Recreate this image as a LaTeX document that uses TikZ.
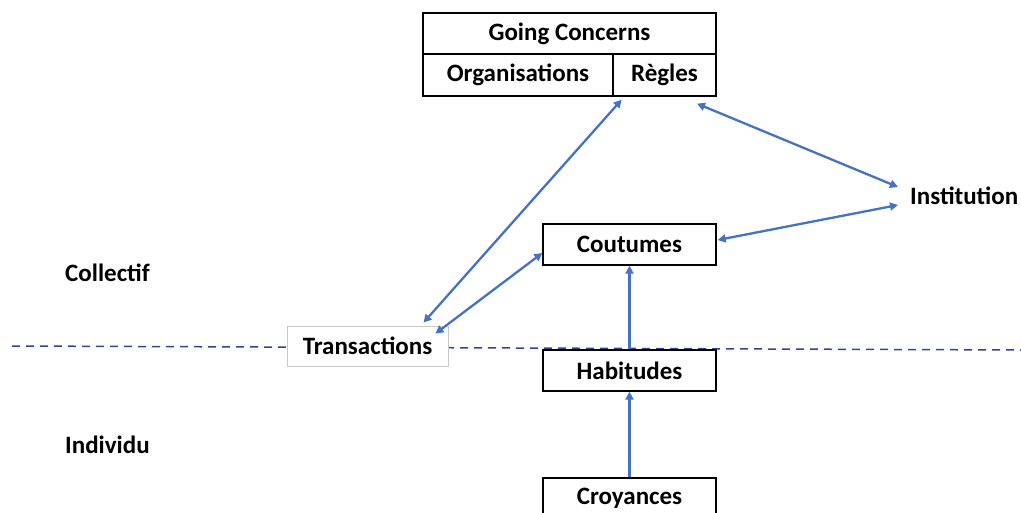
\documentclass[tikz,border=0pt]{standalone}
\usepackage{fontspec}
\setmainfont{Carlito}
\usetikzlibrary{arrows.meta}
\definecolor{arrowblue}{RGB}{68,114,196}
\definecolor{dashblue}{RGB}{50,68,150}
\definecolor{lightframe}{RGB}{200,200,200}
\begin{document}
\begin{tikzpicture}[x=1pt,y=-1pt,
  txt/.style={font=\fontsize{25}{28}\selectfont\bfseries, inner sep=0pt},
  box/.style={txt, draw=black, line width=1.3pt, fill=white, minimum height=41pt, minimum width=173pt},
  link/.style={arrowblue, line width=2.3pt, {Triangle[length=8pt,width=8pt]}-{Triangle[length=8pt,width=8pt]}},
  onearrow/.style={arrowblue, line width=2.3pt, -{Triangle[length=8pt,width=8pt]}},
  dashline/.style={dashblue, line width=1.5pt, dash pattern=on 8pt off 6pt}
]
\useasboundingbox (0,0) rectangle (1021,512);
% dashed separator
\coordinate (dl) at (12,346);
\coordinate (dr) at (1021,350);
\draw[dashline] (dl) -- (dr);
% Going Concerns table
\node[box, minimum width=293pt] (gc) at (569.5,33.5) {Going Concerns};
\node[box, minimum width=190pt, minimum height=42pt] (org) at (518,75) {Organisations};
\node[box, minimum width=103pt, minimum height=42pt] (reg) at (664.5,75) {Règles};
% other boxes
\node[box] (cout) at (629.5,244.5) {Coutumes};
\node[box, draw=lightframe, line width=0.8pt, minimum width=161pt, minimum height=40pt] (trans) at (367.5,346) {Transactions};
\node[box] (hab) at (629.5,370.5) {Habitudes};
\node[box] (croy) at (629.5,498.5) {Croyances};
% labels
\node[txt, anchor=west] (inst) at (910,196) {Institution};
\node[txt, anchor=west] (coll) at (65,273) {Collectif};
\node[txt, anchor=west] (indiv) at (65,445) {Individu};
% connectors
\draw[link] ([xshift=56pt,yshift=3pt]trans.north) -- ([xshift=8pt,yshift=-3pt]org.south east);
\draw[link] ([xshift=-13pt,yshift=-8pt]trans.north east) -- ([yshift=-8.5pt]cout.west);
\draw[onearrow] (hab.north) -- (cout.south);
\draw[onearrow] (croy.north) -- (hab.south);
\draw[link] ([xshift=32.5pt,yshift=-7pt]reg.south) -- ([xshift=-12pt,yshift=9pt]inst.west);
\draw[link] ([xshift=1pt,yshift=4.5pt]cout.east) -- ([xshift=-12pt,yshift=-9pt]inst.west);
\end{tikzpicture}
\end{document}
